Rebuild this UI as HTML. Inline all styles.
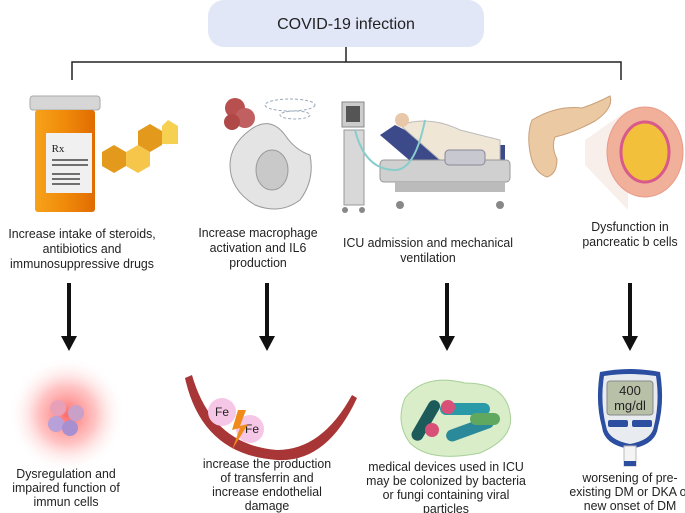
<!DOCTYPE html>
<html><head><meta charset="utf-8"><style>
html,body{margin:0;padding:0;background:#fff;}
svg{display:block}
text{font-family:"Liberation Sans",sans-serif;fill:#222;font-size:12.5px;text-anchor:middle}
.n text{font-size:13px}
</style></head><body>
<svg width="685" height="513" viewBox="0 0 685 513" xmlns="http://www.w3.org/2000/svg">
<defs>
<radialGradient id="glow"><stop offset="0" stop-color="#ff5a5a" stop-opacity=".9"/><stop offset=".5" stop-color="#ff8a8a" stop-opacity=".5"/><stop offset="1" stop-color="#fff" stop-opacity="0"/></radialGradient>
<linearGradient id="bot" x1="0" x2="1"><stop offset="0" stop-color="#f7a21a"/><stop offset=".5" stop-color="#f08a0a"/><stop offset="1" stop-color="#e06c00"/></linearGradient>
</defs>
<rect x="208" y="0" width="276" height="47" rx="16" fill="#e2e7f8"/>
<text x="346" y="29" style="font-size:16px">COVID-19 infection</text>
<path d="M346 47V62M72 80V62H621V80" stroke="#222" stroke-width="1.5" fill="none"/>
<!-- bottle -->
<rect x="30" y="96" width="70" height="14" rx="3" fill="#d6d6d6" stroke="#aaa"/>
<rect x="35" y="110" width="60" height="102" rx="3" fill="url(#bot)"/>
<rect x="46" y="133" width="46" height="60" fill="#f0f0f0"/>
<text x="58" y="152" style="font-size:11px;font-family:'Liberation Serif',serif">Rx</text>
<path d="M52 160h36M52 165h36M52 174h28M52 179h28M52 184h28" stroke="#444" stroke-width="1.5"/>
<polygon points="114,145 126,152 126,166 114,173 102,166 102,152" fill="#e39a1c"/>
<polygon points="138,145 150,152 150,166 138,173 126,166 126,152" fill="#f6c64a"/>
<polygon points="150,124 162,131 162,145 150,152 138,145 138,131" fill="#e39a1c"/>
<polygon points="168,120 178,126 178,144 168,144 162,144 162,126" fill="#f6d050"/>
<!-- macrophage -->
<circle cx="235" cy="108" r="10" fill="#b85050"/><circle cx="245" cy="118" r="10" fill="#c06060"/><circle cx="232" cy="122" r="8" fill="#b04848"/>
<ellipse cx="290" cy="105" rx="25" ry="6" fill="none" stroke="#9ab" stroke-dasharray="3 2"/>
<ellipse cx="295" cy="115" rx="15" ry="4" fill="none" stroke="#9ab" stroke-dasharray="3 2"/>
<path d="M250 130q20-15 35 5q10 15 25 20q5 25-10 45q-20 15-45 5q-25-15-25-40q0-20 20-35z" fill="#e4e4e4" stroke="#999"/>
<ellipse cx="272" cy="170" rx="16" ry="20" fill="#c9c9c9" stroke="#999"/>
<!-- ICU -->
<rect x="342" y="102" width="22" height="25" fill="#ccc" stroke="#888"/><rect x="346" y="106" width="14" height="16" fill="#555"/>
<rect x="344" y="130" width="20" height="75" fill="#d8d8d8" stroke="#999"/>
<path d="M380 135l35 30h90v-20h-70l-40-20z" fill="#3c4a8a"/>
<path d="M400 125q30-10 60 5l40 10v20h-60z" fill="#efe6d6" stroke="#bbb"/>
<circle cx="402" cy="120" r="7" fill="#e8c8a8"/>
<rect x="380" y="160" width="130" height="22" rx="4" fill="#d0d0d0" stroke="#999"/>
<rect x="445" y="150" width="40" height="15" rx="4" fill="#c8c8d0" stroke="#889"/>
<rect x="395" y="182" width="110" height="10" fill="#bbb"/>
<circle cx="400" cy="205" r="4" fill="#888"/><circle cx="500" cy="205" r="4" fill="#888"/><circle cx="345" cy="210" r="3" fill="#888"/><circle cx="362" cy="210" r="3" fill="#888"/>
<path d="M355 130q10 40 40 40q20 0 30-50" stroke="#8cc" stroke-width="2" fill="none"/>
<!-- pancreas -->
<path d="M532 120q25-15 50-12q15-5 28-12q4 12-15 25q-22 12-40 16q-4 10 2 22q0 15-10 18q-12-4-16-20q-5-22 1-37z" fill="#ebc9a2" stroke="#c9a07a"/>
<polygon points="585,140 628,110 628,210 585,165" fill="#f4e4dc" opacity=".6"/>
<ellipse cx="645" cy="152" rx="38" ry="45" fill="#f0b09a" stroke="#e89a88"/>
<ellipse cx="645" cy="152" rx="24" ry="30" fill="#f2c03a" stroke="#d85a8a" stroke-width="3"/>
<!-- labels -->
<g class="n" transform="translate(82 0) scale(.95 1)">
<text x="0" y="238">Increase intake of steroids,</text>
<text x="0" y="253">antibiotics and</text>
<text x="0" y="268">immunosuppressive drugs</text></g>
<g class="n" transform="translate(258 0) scale(.95 1)">
<text x="0" y="237">Increase macrophage</text>
<text x="0" y="252">activation and IL6</text>
<text x="0" y="267">production</text></g>
<g class="n" transform="translate(428 0) scale(.95 1)">
<text x="0" y="247">ICU admission and mechanical</text>
<text x="0" y="262">ventilation</text></g>
<g class="n" transform="translate(630 0) scale(.95 1)">
<text x="0" y="231">Dysfunction in</text>
<text x="0" y="246">pancreatic b cells</text></g>
<!-- arrows -->
<g fill="#111">
<rect x="67" y="283" width="4" height="54"/><polygon points="61,336 77,336 69,351"/>
<rect x="265" y="283" width="4" height="54"/><polygon points="259,336 275,336 267,351"/>
<rect x="445" y="283" width="4" height="54"/><polygon points="439,336 455,336 447,351"/>
<rect x="628" y="283" width="4" height="54"/><polygon points="622,336 638,336 630,351"/>
</g>
<!-- glow -->
<circle cx="67" cy="415" r="58" fill="url(#glow)"/>
<circle cx="58" cy="408" r="8" fill="#e8a0b8"/><circle cx="76" cy="413" r="8" fill="#c8a0c8"/><circle cx="56" cy="424" r="8" fill="#b8a0d8"/><circle cx="70" cy="428" r="8" fill="#a890d0"/>
<!-- vessel -->
<path d="M192 375q20 70 85 75q45 0 75-55l5 3q-30 65-80 62q-75-5-92-82z" fill="#a83636"/>
<circle cx="222" cy="412" r="14" fill="#f6c6e6"/><circle cx="250" cy="429" r="14" fill="#f6c6e6"/>
<text x="222" y="416" style="font-size:12px">Fe</text><text x="252" y="433" style="font-size:12px">Fe</text>
<polygon points="238,410 232,430 240,428 232,450 248,424 240,426 246,410" fill="#f08a1a"/>
<!-- bacteria -->
<g transform="translate(0 -42)">
<path d="M405 440q20-25 60-15q40 0 45 30q5 25-30 40q-50 10-70-10q-15-20-5-45z" fill="#d8edc8" stroke="#a8d098"/>
<rect x="420" y="440" width="12" height="45" rx="6" fill="#1d5a5a" transform="rotate(30 426 462)"/>
<rect x="440" y="445" width="50" height="12" rx="6" fill="#2a9aa8"/>
<rect x="445" y="465" width="50" height="12" rx="6" fill="#2a8a9a" transform="rotate(-20 470 471)"/>
<rect x="470" y="455" width="30" height="12" rx="6" fill="#60a860"/>
<circle cx="448" cy="449" r="7" fill="#d85078"/><circle cx="432" cy="472" r="7" fill="#d85078"/>
</g>
<!-- glucometer -->
<path d="M600 372q30-6 60 0q5 30-2 55q-2 18-28 22q-26-4-28-22q-7-25-2-55z" fill="#2c4ea0"/>
<path d="M604 376q26-4 52 0q4 26-2 50q-2 14-24 18q-22-4-24-18q-6-24-2-50z" fill="#e8ecf0"/>
<rect x="607" y="381" width="46" height="34" rx="3" fill="#b8c0a8" stroke="#888"/>
<text x="630" y="395" style="font-size:13px">400</text>
<text x="630" y="410" style="font-size:13px">mg/dl</text>
<rect x="608" y="420" width="20" height="7" rx="2" fill="#2c4ea0"/><rect x="632" y="420" width="20" height="7" rx="2" fill="#2c4ea0"/>
<rect x="624" y="446" width="12" height="20" fill="#f4f4f4" stroke="#bbb"/><rect x="624" y="461" width="12" height="5" fill="#2c4ea0"/>
<!-- bottom labels -->
<g class="n" transform="translate(66 0) scale(.95 1)">
<text x="0" y="478">Dysregulation  and</text>
<text x="0" y="492">impaired function of</text>
<text x="0" y="506">immun cells</text></g>
<g class="n" transform="translate(267 0) scale(.95 1)">
<text x="0" y="468">increase the production</text>
<text x="0" y="482">of transferrin and</text>
<text x="0" y="496">increase endothelial</text>
<text x="0" y="510">damage</text></g>
<g class="n" transform="translate(446 0) scale(.95 1)">
<text x="0" y="471">medical devices used in ICU</text>
<text x="0" y="485">may be colonized by bacteria</text>
<text x="0" y="499">or fungi containing viral</text>
<text x="0" y="513">particles</text></g>
<g class="n" transform="translate(630 0) scale(.95 1)">
<text x="0" y="482">worsening of pre-</text>
<text x="0" y="496">existing DM or DKA or</text>
<text x="0" y="510">new onset of DM</text></g>
</svg>
</body></html>
